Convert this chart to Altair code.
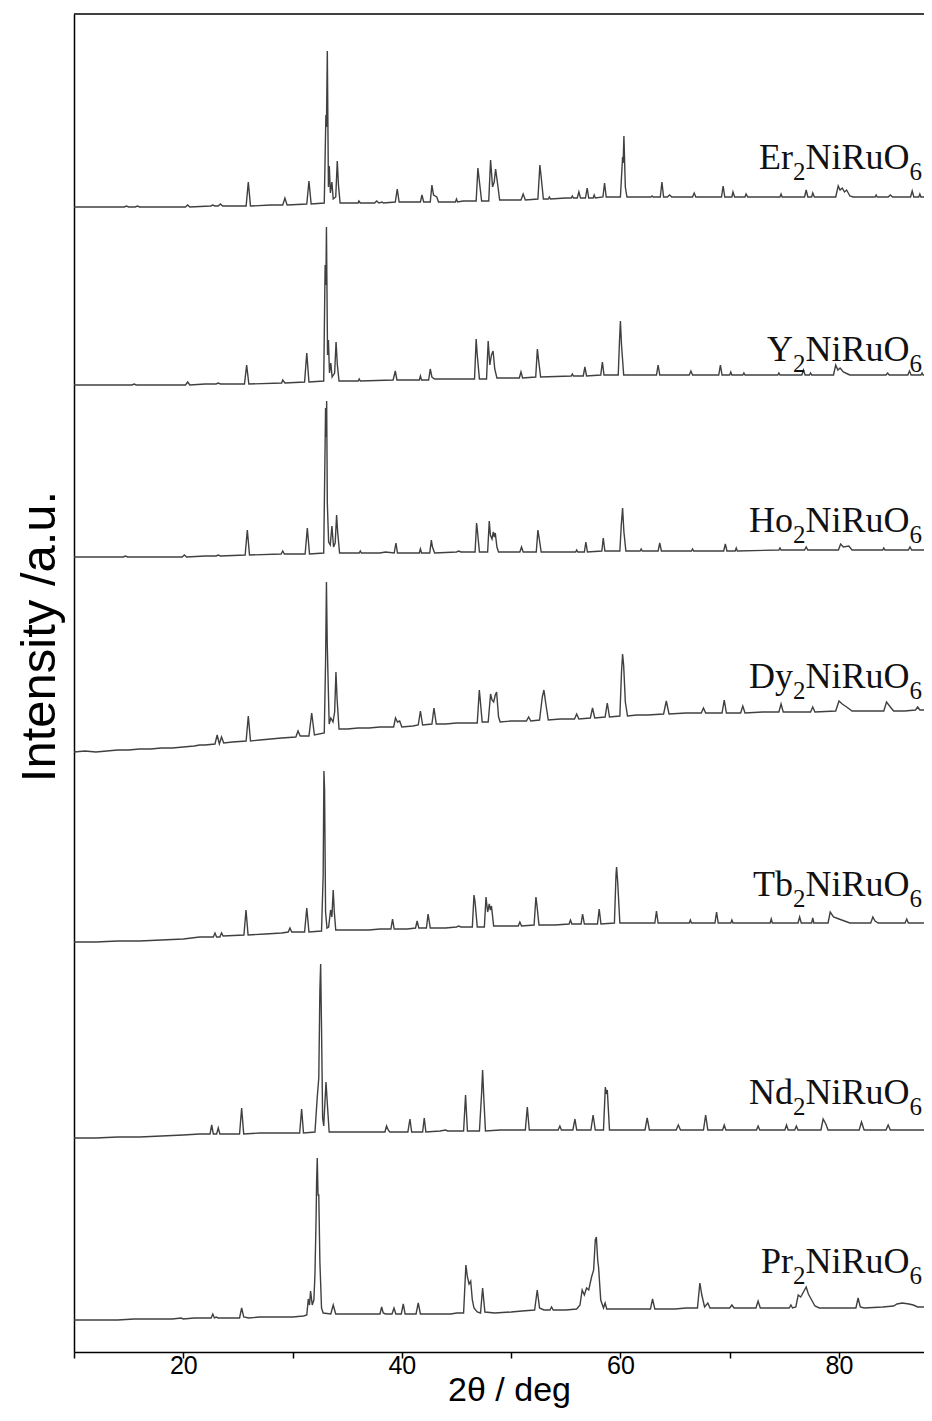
import altair as alt
import pandas as pd

# ---------------- data ----------------
# 2theta (deg) and intensity (a.u., height above each pattern's start level)
SAMPLES = ["Er", "Y", "Ho", "Dy", "Tb", "Nd", "Pr"]
OFFSETS = [1145, 967, 795, 600, 410, 214, 32]          # vertical stacking offsets
LABEL_LEVEL = [1183, 991, 820, 664, 456, 248, 79]      # label baseline levels

ER = [
(10.0,0),(11.5,0),(13.0,0),(14.6,0),(14.8,1),(15.0,0),(15.6,0),(15.8,1),(16.0,0),(18.0,0),(20.2,0),(20.4,2),(20.6,0),(22.5,1),(22.7,2),(22.9,1),(23.2,1),(23.4,3),(23.6,1),
(25.75,1),(25.95,25),(26.15,1),
(28.0,2),(29.1,2),(29.3,9),(29.5,2),
(31.3,3),(31.5,26),(31.7,3),
(32.9,4),(33.05,92),(33.1,80),(33.18,156),(33.28,20),(33.36,41),(33.46,14),(33.6,25),(33.72,8),(33.95,10),(34.09,46),(34.2,22),(34.35,4),
(35.5,4),(36.0,4),(36.07,6),(36.2,4),(37.5,4),(37.7,6),(37.9,4),(38.2,5),(38.3,4),
(39.4,5),(39.58,18),(39.75,5),
(41.7,5),(41.84,12),(42.0,5),
(42.6,5),(42.75,22),(42.9,12),(43.2,10),(43.35,5),
(44.9,5),(45.0,8),(45.1,5),(45.6,6),(46.0,6),
(46.8,6),(46.96,39),(47.05,30),(47.3,6),
(47.95,6),(48.12,47),(48.3,20),(48.45,25),(48.58,38),(48.8,20),(48.95,7),
(50.9,7),(51.1,13),(51.3,7),
(52.45,8),(52.63,42),(52.75,30),(52.95,8),
(53.4,8),(53.5,10),(53.6,8),(55.0,9),(55.5,9),(55.6,11),(55.7,9),
(56.05,9),(56.2,15),(56.35,9),
(56.8,9),(56.96,19),(57.1,9),(57.5,9),(57.6,12),(57.7,9),
(58.4,10),(58.55,24),(58.7,10),
(60.0,10),(60.2,50),(60.25,44),(60.32,71),(60.45,20),(60.6,10),
(62.8,10),(62.9,11),(63.0,10),
(63.65,10),(63.8,25),(63.95,10),
(64.3,10),(64.5,12),(64.7,10),
(66.6,10),(66.75,14),(66.9,10),
(69.25,10),(69.4,21),(69.55,10),(70.2,10),(70.3,15),(70.45,10),
(71.4,10),(71.5,13),(71.65,10),
(74.6,10),(74.7,13),(74.8,10),
(76.85,10),(77.0,17),(77.15,10),(77.5,10),(77.6,14),(77.75,10),
(79.7,10),(79.93,21),(80.1,17),(80.3,19),(80.5,15),(80.7,17),(81.0,11),(81.3,10),
(83.3,10),(83.4,12),(83.5,10),
(84.5,10),(84.7,12),(84.9,10),
(86.55,10),(86.7,16),(86.85,10),(87.3,10),(87.4,13),(87.5,10),
(88.5,10),
]

YY = [
(10.0,0),(12.0,0),(14.0,0),(15.3,0),(15.5,1),(15.7,0),(18.0,0),(20.2,0),(20.4,3),(20.6,0),(22.0,1),(23.0,1),(23.2,2),(23.4,1),
(25.6,1),(25.8,20),(26.0,1),
(29.0,2),(29.1,5),(29.3,2),
(31.1,3),(31.3,32),(31.5,3),
(32.85,4),(32.98,120),(33.05,100),(33.1,158),(33.2,30),(33.28,45),(33.38,12),(33.5,22),(33.62,8),(33.85,12),(33.98,43),(34.1,20),(34.25,4),
(36.0,4),(36.1,6),(36.2,4),
(39.2,5),(39.4,14),(39.55,5),
(41.6,5),(41.7,9),(41.8,5),
(42.45,5),(42.6,16),(42.75,8),(43.0,6),
(46.65,6),(46.8,46),(46.9,30),(47.1,6),
(47.75,6),(47.9,44),(48.05,20),(48.2,30),(48.35,34),(48.5,16),(48.7,7),
(50.75,7),(50.9,13),(51.05,7),
(52.25,8),(52.4,36),(52.5,26),(52.7,8),
(55.5,9),(55.6,11),(55.7,9),
(56.6,9),(56.75,18),(56.9,9),
(58.2,10),(58.35,23),(58.5,10),
(59.8,10),(59.92,45),(60.0,64),(60.1,40),(60.3,10),
(63.3,10),(63.45,20),(63.6,10),
(66.3,10),(66.45,14),(66.6,10),
(69.0,10),(69.15,20),(69.3,10),(70.0,10),(70.1,13),(70.2,10),
(71.2,10),(71.3,12),(71.4,10),
(74.4,10),(74.5,12),(74.6,10),
(76.6,10),(76.75,15),(76.9,10),(77.3,10),(77.4,12),(77.5,10),
(79.5,10),(79.7,20),(79.9,15),(80.1,17),(80.4,13),(80.8,11),(81.0,10),
(84.3,10),(84.45,12),(84.6,10),
(86.3,10),(86.45,14),(86.6,10),(87.5,10),(87.6,12),(87.7,10),(88.5,10),
]

HO = [
(10.0,0),(12.0,0),(14.5,0),(14.7,1),(14.9,0),(17.0,0),(19.9,0),(20.1,2),(20.3,0),(22.0,1),(23.0,1),(23.2,2),(23.4,1),
(25.66,2),(25.86,27),(26.06,2),
(28.95,3),(29.1,6),(29.25,3),
(31.15,3),(31.35,29),(31.55,3),
(32.85,4),(33.02,149),(33.07,120),(33.12,156),(33.18,54),(33.3,15),(33.45,12),(33.6,31),(33.75,10),(33.9,14),(34.03,42),(34.12,26),(34.3,4),
(36.1,4),(36.2,6),(36.3,4),(38.0,4),(38.5,5),
(39.3,4),(39.46,14),(39.6,4),
(41.6,4),(41.7,8),(41.8,4),
(42.55,4),(42.7,17),(42.8,10),(43.0,4),
(45.0,5),(45.2,6),(45.4,5),
(46.7,5),(46.84,34),(46.9,28),(47.1,5),
(47.85,5),(48.0,36),(48.1,22),(48.25,18),(48.37,25),(48.47,20),(48.55,24),(48.7,10),(48.85,5),
(50.8,5),(50.95,10),(51.1,5),
(52.3,5),(52.45,27),(52.55,20),(52.75,5),
(55.9,5),(56.0,7),(56.1,5),
(56.7,5),(56.84,15),(56.98,5),
(58.3,6),(58.43,19),(58.58,6),
(59.95,6),(60.08,32),(60.2,49),(60.32,25),(60.5,6),
(61.8,6),(61.9,8),(62.0,6),
(63.45,6),(63.6,14),(63.75,6),
(66.5,6),(66.6,8),(66.7,6),
(69.45,6),(69.6,13),(69.75,6),(70.5,6),(70.6,9),(70.7,6),
(74.5,7),(74.6,9),(74.7,7),
(76.85,7),(77.0,10),(77.15,7),
(79.95,7),(80.15,13),(80.4,10),(80.9,11),(81.2,7),
(84.0,7),(84.1,9),(84.2,7),
(86.35,7),(86.5,10),(86.65,7),(88.5,7),
]

DY = [
(10.0,0),(11.0,1),(12.0,0),(13.0,1),(14.0,2),(15.0,2),(16.0,3),(17.0,3),(18.0,4),(19.0,4),(20.0,5),(21.0,6),(21.5,7),(22.0,7),
(22.9,8),(23.1,17),(23.3,8),(23.5,15),(23.7,9),(24.5,10),
(25.75,11),(25.95,36),(26.15,11),
(27.0,12),(28.0,13),(29.0,14),(30.3,15),(30.5,21),(30.7,16),
(31.5,16),(31.75,39),(32.0,17),
(32.9,19),(33.02,90),(33.1,170),(33.17,110),(33.24,77),(33.35,28),(33.5,34),(33.7,30),(33.85,40),(33.97,80),(34.08,52),(34.25,23),
(35.0,23),(36.0,24),(37.0,24),(38.0,25),(39.0,25),
(39.25,25),(39.42,34),(39.6,30),(39.8,31),(40.0,25),(41.0,26),
(41.5,27),(41.7,41),(41.9,27),
(42.75,28),(42.94,44),(43.15,28),
(44.0,28),(45.0,29),(46.0,29),
(46.9,29),(47.09,62),(47.15,55),(47.35,30),
(47.9,30),(48.12,58),(48.25,52),(48.4,50),(48.55,57),(48.67,60),(48.85,35),(49.0,30),
(50.0,31),(51.4,31),(51.6,35),(51.8,31),
(52.6,32),(52.85,55),(53.0,62),(53.15,50),(53.4,32),
(54.5,33),(55.8,33),(56.0,38),(56.2,33),
(57.25,34),(57.45,44),(57.65,34),
(58.6,35),(58.8,49),(59.0,35),
(59.95,36),(60.1,80),(60.2,98),(60.3,86),(60.45,50),(60.65,36),
(61.5,37),(62.5,37),
(63.95,38),(64.2,51),(64.45,38),
(66.0,39),(67.4,39),(67.6,44),(67.8,39),
(69.3,39),(69.5,52),(69.7,39),
(71.0,39),(71.2,46),(71.4,39),
(73.0,40),(74.5,40),(74.7,48),(74.9,40),
(76.0,40),(77.4,40),(77.6,45),(77.8,40),
(79.7,41),(80.0,51),(80.3,48),(80.7,45),(81.2,41),
(82.5,41),(84.1,41),(84.35,50),(84.7,45),(85.0,41),
(86.0,41),(87.0,42),(87.2,45),(87.4,42),(88.5,42),
]

TB = [
(10.0,0),(12.0,0),(14.0,1),(16.0,1),(18.0,2),(20.0,3),(21.5,5),
(22.75,5),(22.9,9),(23.05,5),(23.35,5),(23.5,9),(23.65,6),
(25.55,7),(25.74,32),(25.93,7),
(27.5,8),(29.0,9),(29.6,10),(29.76,14),(29.92,10),
(31.1,10),(31.3,34),(31.5,10),
(32.65,11),(32.8,67),(32.87,171),(32.93,152),(33.02,30),(33.15,14),(33.3,15),(33.48,32),(33.6,25),(33.72,52),(33.82,30),(33.95,12),
(35.5,12),(37.0,12),(38.0,13),
(39.0,13),(39.15,23),(39.3,13),
(40.5,13),(41.25,14),(41.4,21),(41.55,14),
(42.25,14),(42.4,28),(42.6,14),
(44.0,14),(45.0,15),(45.2,16),(45.4,15),
(46.45,15),(46.6,47),(46.7,40),(46.9,15),
(47.55,15),(47.7,45),(47.85,30),(48.0,38),(48.1,32),(48.2,36),(48.4,16),
(49.5,16),(50.65,16),(50.8,20),(50.95,16),
(52.1,17),(52.27,45),(52.35,38),(52.55,17),
(54.0,17),(55.3,18),(55.43,22),(55.56,18),
(56.4,18),(56.54,28),(56.7,18),
(57.9,18),(58.06,33),(58.22,18),
(59.45,19),(59.6,68),(59.65,75),(59.75,60),(59.95,19),
(61.5,19),(63.15,19),(63.3,31),(63.45,19),
(65.0,19),(66.3,19),(66.4,22),(66.5,19),
(67.0,19),(68.65,19),(68.8,30),(68.95,19),
(70.1,19),(70.2,22),(70.3,19),
(72.0,19),(73.7,19),(73.8,23),(73.9,19),
(76.25,19),(76.4,25),(76.55,19),(77.5,19),(77.6,24),(77.7,19),
(79.0,19),(79.2,30),(79.5,25),(80.0,23),(80.5,21),(81.0,19),
(82.9,19),(83.1,25),(83.3,21),(83.6,19),
(85.0,19),(86.05,19),(86.2,23),(86.35,19),(88.5,19),
]

ND = [
(10.0,0),(12.0,0),(14.0,1),(16.0,1),(18.0,2),(20.0,3),(21.5,4),
(22.45,4),(22.6,13),(22.75,4),(23.05,4),(23.2,10),(23.35,4),
(25.15,4),(25.34,30),(25.53,4),
(27.0,5),(28.5,5),(30.0,5),
(30.65,5),(30.83,29),(31.0,5),
(32.05,6),(32.26,41),(32.4,60),(32.5,148),(32.57,174),(32.65,110),(32.75,20),(32.85,12),(33.06,56),(33.15,40),(33.2,31),(33.35,6),
(35.0,6),(37.0,6),(38.45,6),(38.6,12),(38.75,8),(38.9,6),
(40.55,6),(40.74,19),(40.9,6),
(41.9,6),(42.05,20),(42.2,6),
(43.5,7),(44.0,8),(44.2,7),
(45.65,7),(45.83,43),(46.0,7),
(47.1,7),(47.3,45),(47.39,68),(47.5,40),(47.65,7),
(49.0,8),(50.0,8),
(51.3,8),(51.48,31),(51.66,8),
(53.0,8),(54.3,8),(54.46,12),(54.6,8),
(55.65,8),(55.84,19),(56.0,8),
(57.3,8),(57.5,23),(57.7,8),
(58.45,8),(58.62,51),(58.72,44),(58.8,48),(59.0,8),
(60.5,8),(62.25,8),(62.45,20),(62.65,8),
(64.0,8),(65.1,8),(65.3,13),(65.5,8),
(67.6,8),(67.8,23),(68.0,8),
(69.35,8),(69.5,13),(69.65,8),
(71.0,8),(72.45,8),(72.6,12),(72.75,8),
(75.05,8),(75.2,13),(75.35,8),(75.95,8),(76.1,12),(76.25,8),
(78.35,8),(78.55,19),(78.8,14),(79.0,8),
(81.85,8),(82.06,16),(82.3,8),
(84.3,8),(84.5,13),(84.7,8),
(86.0,8),(87.8,8),(88.0,12),(88.2,8),(88.5,8),
]

PR = [
(10.0,0),(12.0,0),(14.0,0),(15.5,1),(17.0,1),(19.0,1),(19.8,2),(20.0,1),(21.0,2),
(22.55,2),(22.7,6),(22.85,2),(23.0,3),(23.2,2),
(25.15,2),(25.34,12),(25.53,3),
(26.0,2),(27.0,3),(29.0,3),(30.0,3),(31.0,4),
(31.3,5),(31.44,21),(31.55,15),(31.65,29),(31.8,15),(31.95,20),(32.05,46),(32.15,100),(32.2,139),(32.26,162),(32.33,125),(32.4,125),(32.5,58),(32.65,12),(32.8,7),
(33.5,6),(33.72,15),(33.95,6),
(35.0,6),(36.0,6),(37.0,6),
(38.0,6),(38.15,13),(38.3,7),(38.5,6),
(39.1,6),(39.28,12),(39.45,6),
(39.95,6),(40.13,16),(40.3,6),
(41.3,6),(41.5,17),(41.7,6),
(42.5,6),(43.5,6),(44.5,6),(45.0,7),
(45.65,7),(45.86,55),(46.0,43),(46.15,36),(46.3,39),(46.45,20),(46.6,12),(46.9,8),
(47.2,7),(47.39,32),(47.6,8),
(48.5,7),(50.0,8),(51.0,9),
(52.15,10),(52.39,30),(52.6,12),(53.0,10),
(53.55,10),(53.7,13),(53.85,10),
(55.0,10),(56.0,11),
(56.3,15),(56.5,30),(56.7,25),(56.9,32),(57.1,30),(57.36,43),(57.55,50),(57.7,80),(57.8,83),(57.92,60),(58.0,53),(58.2,20),(58.45,12),(58.6,17),(58.75,11),
(60.0,11),(61.5,11),(62.75,11),(62.94,21),(63.15,11),
(65.0,11),(66.0,12),(67.05,12),(67.27,37),(67.45,25),(67.7,13),(68.0,17),(68.2,12),
(70.0,12),(70.2,15),(70.4,12),(72.4,12),(72.6,19),(72.8,12),
(74.5,12),(75.45,12),(75.6,15),(75.75,12),
(76.05,13),(76.27,25),(76.5,23),(77.0,33),(77.2,26),(77.5,20),(77.8,14),(78.2,12),
(80.0,12),(81.55,12),(81.75,22),(81.95,13),(82.3,12),
(84.0,13),(85.0,14),(85.3,16),(85.8,17),(86.4,16),(86.8,15),(87.2,13),(88.5,13),
]

PATTERNS = [ER, YY, HO, DY, TB, ND, PR]
X_TICKS = [10, 20, 30, 40, 50, 60, 70, 80]

# ---------------- layout ----------------
X_MIN, X_MAX = 10.0, 87.78
W, H = 850, 1338

rows = []
for name, off, pts in zip(SAMPLES, OFFSETS, PATTERNS):
    for i, (tt, inten) in enumerate(pts):
        rows.append({"sample": name, "tt": tt, "I": off + inten, "idx": i})
df = pd.DataFrame(rows)

# label pieces (formula with subscripts), laid out with Times/Liberation Serif advance widths
TW = {"E": 611, "r": 333, "N": 722, "i": 278, "R": 667, "u": 500, "O": 722, "Y": 722,
      "H": 722, "o": 500, "D": 722, "y": 500, "T": 611, "b": 500, "d": 500, "P": 556,
      "2": 500, "6": 500}
MAIN, SUB = 36, 25
RIGHT_PX = 848
px_per_deg = W / (X_MAX - X_MIN)


def text_w(s, size):
    return sum(TW[c] for c in s) * size / 1000.0


lab_rows = []
for name, lvl in zip(SAMPLES, LABEL_LEVEL):
    parts = [(name, "main"), ("2", "sub"), ("NiRuO", "main"), ("6", "sub")]
    widths = [text_w(t, MAIN if k == "main" else SUB) for t, k in parts]
    cur = RIGHT_PX - sum(widths)
    for (t, k), w in zip(parts, widths):
        lab_rows.append({"tt": X_MIN + cur / px_per_deg,
                         "I": lvl if k == "main" else lvl - 11,
                         "t": t, "kind": k})
        cur += w
lab = pd.DataFrame(lab_rows)

xscale = alt.Scale(domain=[X_MIN, X_MAX], nice=False, zero=False)
yscale = alt.Scale(domain=[0, H], nice=False, zero=False)

xaxis = alt.Axis(values=X_TICKS, title="2θ / deg",
                 labelExpr="datum.value % 20 == 0 ? datum.label : ''",
                 grid=False, tickSize=6, tickWidth=1.5, tickColor="black",
                 domainColor="black", domainWidth=1.5,
                 labelFont="Liberation Sans", labelFontSize=25, labelColor="black",
                 labelBaseline="middle", labelPadding=7,
                 titleFont="Liberation Sans", titleFontSize=34,
                 titleFontWeight="normal", titleColor="black",
                 titleX=435, titleY=38, titleBaseline="middle")
yaxis = alt.Axis(title="Intensity /a.u.", labels=False, ticks=False, grid=False,
                 domainColor="black", domainWidth=1.5,
                 titleFont="Liberation Sans", titleFontSize=49,
                 titleFontWeight="normal", titleColor="black",
                 titleX=-35, titleY=622, titleBaseline="middle")

X = alt.X("tt:Q", scale=xscale, axis=xaxis)
Y = alt.Y("I:Q", scale=yscale, axis=yaxis)

lines = alt.Chart(df).mark_line(color="#404040", strokeWidth=1.4, clip=True).encode(
    x=X, y=Y, detail="sample:N", order="idx:Q",
)

main_txt = alt.Chart(lab).transform_filter("datum.kind == 'main'").mark_text(
    align="left", baseline="alphabetic", font="Liberation Serif", fontSize=MAIN, color="#111111"
).encode(x=X, y=Y, text="t:N")

sub_txt = alt.Chart(lab).transform_filter("datum.kind == 'sub'").mark_text(
    align="left", baseline="alphabetic", font="Liberation Serif", fontSize=SUB, color="#111111"
).encode(x=X, y=Y, text="t:N")

top_border = alt.Chart(pd.DataFrame({"a": [0]})).mark_rule(color="black", strokeWidth=1.5).encode(
    x=alt.value(0), x2=alt.value(W), y=alt.value(0)
)

chart = alt.layer(lines, main_txt, sub_txt, top_border).properties(
    width=W, height=H,
    autosize=alt.AutoSizeParams(type="none"),
    padding={"left": 66, "top": 6, "right": 0, "bottom": 60},
).configure_view(stroke="transparent")

chart.save("out.html", embed_options={"renderer": "svg", "actions": False})
